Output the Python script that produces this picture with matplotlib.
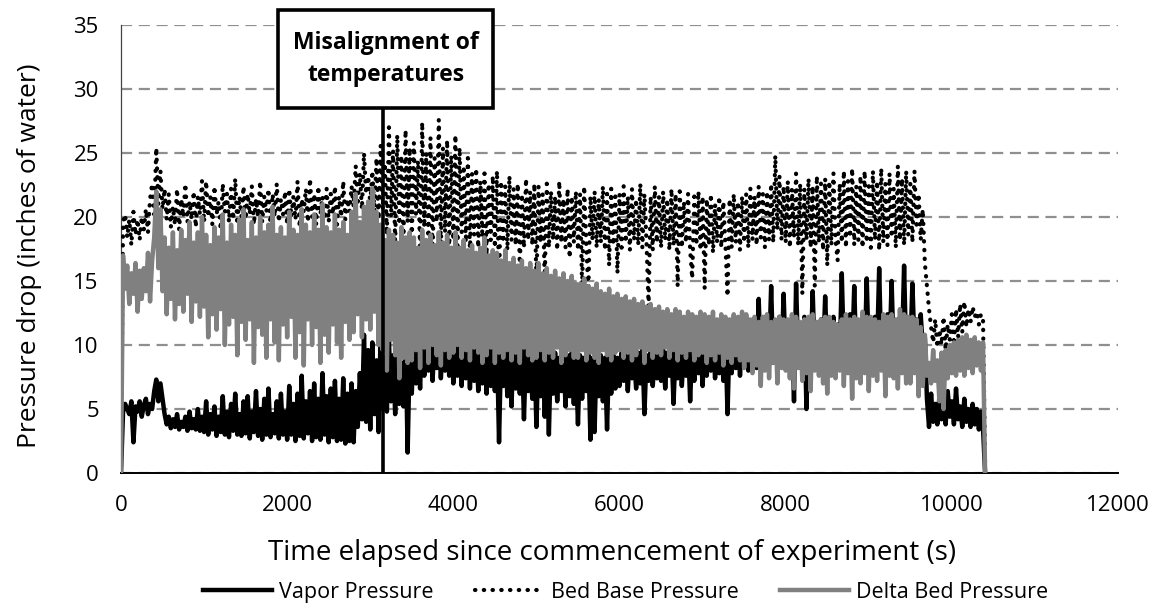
import numpy as np
import matplotlib.pyplot as plt
from matplotlib.patches import Rectangle

plt.rcParams['font.family'] = ['Open Sans', 'DejaVu Sans']

# readings every 25 s (inches of water)
vapor = [
    0, 4.8, 5.4, 5.0, 4.6, 5.6, 2.4, 5.2, 4.8, 5.6, 4.4, 5.3, 5.8, 4.6, 5.4, 5.0, 6.4, 7.3, 5.6, 7.0,
    5.8, 4.6, 3.8, 4.4, 3.5, 4.2, 3.6, 4.6, 3.4, 4.0, 3.6, 4.4, 3.3, 4.8, 3.5, 4.2, 3.4, 5.0, 3.3, 4.4,
    3.2, 5.6, 3.0, 4.6, 3.4, 5.2, 2.9, 4.4, 3.2, 6.0, 3.0, 4.8, 2.8, 5.4, 3.3, 6.2, 3.0, 4.6, 2.9, 5.6,
    3.1, 6.0, 2.7, 4.8, 3.2, 6.4, 2.9, 5.0, 2.6, 5.8, 3.0, 6.6, 2.8, 4.6, 3.1, 5.6, 2.7, 6.2, 3.0, 4.8,
    2.6, 6.8, 3.0, 5.4, 2.5, 6.2, 2.9, 7.6, 2.7, 5.6, 3.1, 6.4, 2.5, 7.0, 2.8, 5.8, 2.6, 7.8, 3.0, 6.0,
    2.4, 6.6, 2.8, 7.2, 2.5, 5.8, 2.6, 7.4, 2.3, 6.2, 2.5, 7.0, 2.4, 6.4, 3.6, 7.8, 4.2, 10.8, 4.0, 9.6,
    3.4, 10.2, 4.6, 8.8, 3.2, 11.0, 5.0, 9.0, 4.8, 10.4, 5.6, 9.2, 4.6, 9.8, 5.4, 8.6, 5.2, 10.6, 1.6, 9.4,
    6.2, 10.8, 7.0, 9.6, 6.6, 11.2, 7.6, 10.0, 8.0, 11.4, 7.2, 10.6, 8.2, 11.0, 7.4, 10.4, 8.0, 11.2, 7.6, 10.8,
    7.0, 11.2, 7.6, 10.6, 6.8, 11.0, 7.4, 10.4, 6.6, 10.8, 7.2, 10.2, 6.4, 10.6, 7.0, 10.0, 6.2, 10.4, 6.8, 9.8,
    6.4, 10.2, 2.4, 9.8, 6.8, 10.0, 6.0, 9.6, 5.2, 10.2, 6.6, 9.4, 6.2, 9.8, 4.2, 9.6, 6.4, 9.2, 5.8, 9.8,
    3.6, 9.4, 6.0, 9.8, 4.4, 9.2, 3.0, 9.6, 6.2, 9.4, 5.6, 9.0, 6.4, 9.6, 5.2, 9.2, 6.0, 9.4, 5.4, 8.8,
    3.8, 9.2, 5.8, 9.0, 6.4, 9.4, 2.6, 9.0, 3.2, 9.6, 6.0, 9.2, 5.6, 9.0, 3.4, 9.4, 6.2, 9.2, 6.6, 9.0,
    6.8, 9.4, 7.2, 9.2, 6.4, 9.6, 7.4, 9.0, 6.6, 9.4, 7.0, 9.8, 4.6, 9.2, 7.2, 9.6, 6.8, 9.4, 7.4, 9.8,
    7.2, 9.6, 6.6, 9.4, 7.6, 9.8, 5.4, 9.6, 7.4, 10.0, 6.8, 9.8, 7.6, 10.2, 5.6, 9.8, 7.2, 10.4, 7.8, 10.0,
    6.8, 10.4, 7.6, 10.2, 8.0, 10.6, 7.4, 10.4, 7.8, 10.8, 7.2, 10.6, 4.6, 10.8, 7.8, 10.4, 8.2, 11.0, 7.6, 10.8,
    8.4, 11.2, 8.0, 11.8, 8.6, 11.4, 8.2, 13.6, 8.8, 11.6, 8.4, 12.0, 9.0, 14.6, 8.6, 11.8, 9.2, 12.2, 8.8, 14.0,
    9.0, 11.6, 8.6, 12.0, 5.6, 14.8, 9.2, 11.4, 8.8, 12.2, 5.0, 11.8, 9.0, 14.2, 8.6, 11.6, 9.4, 12.0, 8.8, 13.8,
    9.2, 11.8, 8.6, 12.2, 9.0, 11.6, 8.8, 15.6, 9.4, 11.8, 8.6, 12.4, 9.2, 14.6, 9.0, 11.6, 9.6, 12.0, 8.8, 15.2,
    9.4, 11.8, 9.0, 12.2, 9.6, 16.0, 9.2, 11.8, 9.8, 12.4, 9.4, 15.0, 9.0, 11.8, 9.6, 12.2, 9.8, 16.2, 9.2, 12.0,
    9.6, 14.8, 10.0, 12.0, 9.4, 12.4, 9.8, 10.6, 5.8, 3.6, 6.2, 4.0, 5.4, 3.8, 6.0, 4.2, 5.6, 3.8, 6.4, 4.4,
    5.6, 3.8, 6.6, 4.2, 5.2, 3.6, 5.8, 4.0, 5.0, 3.6, 5.4, 3.8, 5.0, 3.4, 4.8, 3.5, 0,
]

bed_base = [
    0, 19.6, 20.2, 18.4, 19.8, 17.8, 20.4, 18.6, 19.8, 18.2, 20.0, 19.0, 20.6, 18.8, 21.4, 22.6, 20.2, 25.4, 21.0, 23.6,
    20.6, 22.2, 19.8, 21.8, 19.2, 20.8, 19.4, 22.2, 19.0, 21.4, 20.0, 22.6, 19.6, 21.2, 19.8, 22.0, 19.2, 21.6, 20.2, 22.8,
    19.6, 22.8, 20.0, 21.6, 19.4, 22.4, 20.2, 21.2, 19.0, 22.6, 20.4, 21.8, 19.6, 22.2, 19.8, 23.0, 19.4, 21.6, 20.0, 22.4,
    19.8, 21.8, 20.2, 22.4, 19.4, 21.4, 20.0, 22.8, 19.6, 21.6, 20.4, 22.2, 19.2, 21.8, 20.0, 22.6, 19.6, 21.4, 20.2, 22.0,
    19.4, 22.2, 20.0, 21.6, 19.8, 22.8, 19.2, 21.4, 20.4, 22.2, 19.6, 23.0, 20.0, 21.8, 19.4, 22.4, 20.2, 21.6, 19.8, 22.2,
    19.6, 21.8, 20.2, 22.4, 19.4, 21.6, 20.0, 22.8, 19.8, 21.4, 20.4, 22.4, 20.8, 24.0, 21.2, 23.4, 20.6, 25.0, 21.8, 23.2,
    21.0, 23.6, 20.4, 24.6, 19.8, 25.6, 20.6, 24.2, 18.6, 27.0, 20.0, 25.2, 17.8, 26.4, 19.4, 24.8, 18.2, 26.8, 19.6, 25.4,
    18.0, 25.8, 20.2, 24.4, 17.0, 27.4, 19.2, 25.0, 18.4, 26.2, 16.8, 24.6, 19.6, 27.6, 17.6, 25.4, 18.8, 26.0, 17.4, 24.8,
    18.2, 26.4, 17.4, 25.4, 18.8, 24.0, 18.0, 24.6, 17.2, 23.4, 18.6, 23.8, 17.6, 22.8, 18.4, 23.4, 17.0, 22.6, 18.2, 23.2,
    17.6, 23.6, 14.6, 22.8, 18.0, 22.4, 17.4, 23.2, 18.2, 22.2, 17.8, 22.6, 16.0, 21.8, 17.6, 23.0, 18.2, 22.0, 17.8, 22.6,
    14.8, 22.4, 18.0, 21.8, 15.0, 22.6, 17.6, 22.0, 18.2, 21.6, 17.4, 22.8, 18.0, 21.4, 17.6, 22.2, 16.8, 21.6, 18.0, 22.0,
    17.4, 21.8, 14.4, 22.4, 17.8, 14.2, 21.6, 18.2, 22.0, 17.6, 21.4, 18.0, 22.4, 17.4, 21.8, 16.2, 22.2, 17.8, 21.6, 15.6,
    21.8, 17.6, 22.4, 18.0, 21.6, 17.4, 22.2, 18.2, 21.4, 17.8, 22.6, 17.6, 21.8, 18.0, 13.0, 21.6, 17.4, 22.4, 18.0, 21.6,
    17.6, 22.0, 18.2, 21.4, 17.4, 22.2, 17.8, 21.8, 14.6, 22.0, 17.6, 21.2, 18.0, 21.8, 17.4, 15.2, 21.6, 17.8, 22.0, 17.4,
    21.6, 14.4, 21.4, 17.8, 21.8, 17.2, 21.0, 18.0, 21.6, 17.6, 21.2, 17.8, 13.8, 21.4, 17.6, 21.8, 18.0, 21.2, 17.4, 21.6,
    18.0, 21.8, 17.6, 22.2, 18.2, 21.6, 17.8, 22.4, 18.4, 21.8, 17.6, 22.0, 18.2, 22.6, 18.0, 24.8, 19.0, 23.2, 18.2, 22.4,
    18.0, 22.8, 17.6, 22.2, 18.4, 23.4, 17.8, 22.6, 14.0, 22.2, 18.2, 23.0, 17.6, 22.4, 14.6, 23.2, 18.0, 22.6, 17.4, 23.0,
    16.2, 22.8, 17.8, 23.4, 18.2, 16.6, 22.6, 18.0, 23.6, 17.6, 22.8, 18.4, 23.8, 17.8, 22.4, 18.2, 23.2, 17.6, 23.6, 18.0,
    22.4, 17.6, 23.6, 18.2, 22.8, 17.4, 23.8, 18.0, 22.6, 17.8, 23.4, 18.4, 22.2, 17.6, 24.0, 18.2, 23.0, 17.8, 23.6, 18.6,
    22.6, 18.0, 23.6, 19.4, 21.8, 18.2, 20.6, 16.4, 14.6, 12.8, 11.4, 10.2, 12.0, 9.8, 11.2, 10.0, 12.2, 9.6, 11.6, 10.4,
    12.4, 10.0, 12.8, 10.6, 13.2, 11.0, 13.4, 11.4, 12.8, 11.8, 13.0, 12.2, 12.6, 11.6, 12.4, 12.0, 0.7,
]

delta_bed = [
    0, 17.0, 14.4, 16.2, 13.2, 15.6, 14.0, 16.4, 12.6, 15.8, 13.6, 16.0, 14.2, 17.2, 13.4, 16.6, 18.4, 22.0, 16.0, 20.6,
    14.2, 18.4, 12.4, 17.6, 13.6, 18.8, 12.0, 17.4, 13.2, 19.0, 12.6, 18.2, 14.0, 19.6, 11.8, 18.0, 13.4, 18.8, 12.2, 20.0,
    13.0, 18.6, 10.6, 17.8, 12.4, 19.2, 11.2, 18.4, 12.8, 20.2, 10.0, 18.0, 11.6, 19.4, 12.2, 18.6, 9.2, 19.8, 11.8, 20.6,
    10.4, 18.2, 12.0, 19.6, 8.6, 18.4, 11.4, 20.0, 10.8, 18.8, 9.0, 19.4, 12.0, 20.8, 10.2, 18.6, 8.8, 19.2, 11.6, 18.4,
    10.6, 20.4, 12.2, 19.0, 9.0, 18.6, 11.0, 20.6, 8.4, 19.4, 12.0, 18.8, 10.0, 20.2, 11.4, 19.0, 8.6, 21.0, 10.8, 19.2,
    9.4, 18.8, 11.6, 20.2, 10.2, 19.0, 9.0, 19.6, 11.8, 18.6, 10.4, 20.4, 11.0, 21.8, 12.4, 19.6, 10.6, 20.8, 12.0, 21.2,
    11.2, 22.2, 12.6, 20.4, 10.0, 19.4, 9.6, 18.2, 8.0, 19.0, 10.4, 18.6, 9.2, 18.0, 7.4, 19.2, 9.0, 18.4, 8.6, 18.8,
    8.8, 18.4, 9.6, 17.6, 8.2, 19.0, 9.8, 18.2, 8.6, 18.6, 10.0, 17.8, 9.2, 18.8, 8.4, 18.0, 9.6, 18.6, 9.0, 17.6,
    9.4, 18.8, 10.0, 17.6, 9.0, 18.2, 9.6, 17.4, 8.8, 17.8, 9.8, 17.2, 9.4, 17.6, 8.6, 18.4, 9.2, 17.0, 9.8, 17.4,
    8.6, 17.2, 9.4, 16.6, 9.0, 17.4, 9.6, 16.4, 8.8, 16.8, 9.4, 16.2, 8.6, 16.6, 9.8, 16.0, 9.2, 16.4, 8.8, 15.8,
    9.0, 16.4, 9.6, 15.6, 8.8, 16.0, 9.4, 15.4, 9.0, 15.8, 9.8, 15.2, 8.6, 15.6, 9.2, 15.0, 9.6, 15.4, 9.0, 14.8,
    9.0, 14.8, 9.6, 15.2, 8.8, 14.6, 9.4, 14.4, 9.0, 14.8, 8.6, 14.2, 9.6, 14.0, 9.2, 14.4, 8.8, 13.8, 9.4, 14.0,
    9.6, 13.6, 9.0, 13.8, 9.4, 13.4, 8.8, 13.6, 9.2, 13.2, 9.8, 13.4, 8.6, 13.0, 9.6, 13.2, 9.0, 12.8, 9.4, 13.0,
    9.2, 12.6, 9.8, 12.8, 9.0, 12.4, 9.6, 12.8, 8.8, 12.6, 9.4, 12.2, 9.0, 12.6, 9.6, 12.4, 8.8, 12.2, 9.2, 12.6,
    9.4, 12.4, 8.6, 12.2, 9.2, 12.6, 8.8, 12.0, 9.4, 12.4, 8.4, 12.2, 9.0, 12.0, 8.6, 12.4, 9.2, 12.2, 8.8, 12.6,
    8.2, 12.4, 8.8, 12.0, 7.8, 12.2, 8.4, 11.8, 6.8, 12.2, 8.0, 12.4, 7.4, 11.8, 8.6, 12.0, 7.0, 12.2, 8.2, 12.0,
    8.0, 12.0, 7.4, 12.4, 6.6, 12.2, 8.2, 11.8, 7.2, 12.0, 7.8, 12.2, 6.4, 12.4, 8.0, 11.8, 7.6, 12.0, 7.0, 12.2,
    6.2, 12.2, 7.6, 11.8, 7.4, 11.6, 8.0, 12.0, 6.8, 12.4, 7.8, 12.0, 5.8, 12.2, 7.4, 12.0, 7.0, 12.6, 7.8, 12.2,
    6.4, 12.2, 7.6, 12.0, 7.2, 11.8, 8.0, 12.4, 6.0, 12.2, 7.6, 12.4, 7.4, 12.0, 6.6, 12.8, 7.8, 12.4, 7.0, 12.2,
    7.0, 12.2, 7.8, 12.0, 6.0, 11.4, 6.8, 10.8, 7.6, 8.6, 7.0, 9.6, 7.2, 8.8, 5.6, 9.4, 5.0, 9.6, 7.4, 10.0,
    7.8, 10.2, 7.6, 10.4, 8.0, 10.6, 7.6, 10.8, 8.2, 10.4, 7.8, 10.6, 8.4, 10.2, 8.0, 10.2, 0,
]

step_s = 25
event_time = 3157

fig = plt.figure(figsize=(11.61, 6.08), dpi=100)
ax = fig.add_axes([0.1042, 0.222, 0.8588, 0.737])

ax.plot(np.arange(len(vapor)) * step_s, vapor, color='black', linewidth=3.2,
        label='Vapor Pressure', zorder=3)
ax.plot(np.arange(len(bed_base)) * step_s, bed_base, color='black', linewidth=3.0,
        linestyle=(0, (0.1, 2.0)), dash_capstyle='round', label='Bed Base Pressure', zorder=4)
ax.plot(np.arange(len(delta_bed)) * step_s, delta_bed, color='#808080', linewidth=3.2,
        label='Delta Bed Pressure', zorder=5)

# annotation box and marker line
box = Rectangle((1892, 28.52), 2590, 7.65, facecolor='white', edgecolor='black',
                linewidth=2.6, clip_on=False, zorder=7)
ax.add_patch(box)
ax.vlines(event_time, 0, 28.52, color='black', linewidth=2.6, zorder=6)
ax.text(3187, 32.34, 'Misalignment of\ntemperatures', ha='center', va='center',
        fontsize=16.5, fontweight='bold', linespacing=1.4, clip_on=False, zorder=8)

ax.set_xlim(0, 12000)
ax.set_ylim(0, 35)
ax.set_xticks(range(0, 12001, 2000))
ax.set_yticks(range(0, 36, 5))
ax.grid(True, axis='y', color='#8f8f8f', linestyle=(0, (5, 3)), linewidth=1.6)
ax.set_axisbelow(True)
ax.spines['top'].set_visible(False)
ax.spines['right'].set_visible(False)
ax.spines['left'].set_color('#444444')
ax.spines['left'].set_linewidth(0.9)
ax.spines['bottom'].set_linewidth(1.4)
ax.tick_params(length=0, labelsize=16)
ax.tick_params(axis='x', pad=16)
ax.tick_params(axis='y', pad=16)

ax.set_xlabel('Time elapsed since commencement of experiment (s)', fontsize=20)
ax.xaxis.set_label_coords(0.493, -0.147)
ax.xaxis.label.set_va('top')
ax.set_ylabel('Pressure drop (inches of water)', fontsize=19)
ax.yaxis.set_label_coords(-0.079, 0.484)

fig.legend(loc='center', bbox_to_anchor=(0.539, 0.026), ncol=3, frameon=False,
           fontsize=15.5, handlelength=3.2, handletextpad=0.35, columnspacing=1.9)

fig.savefig('out.png', dpi=100)
